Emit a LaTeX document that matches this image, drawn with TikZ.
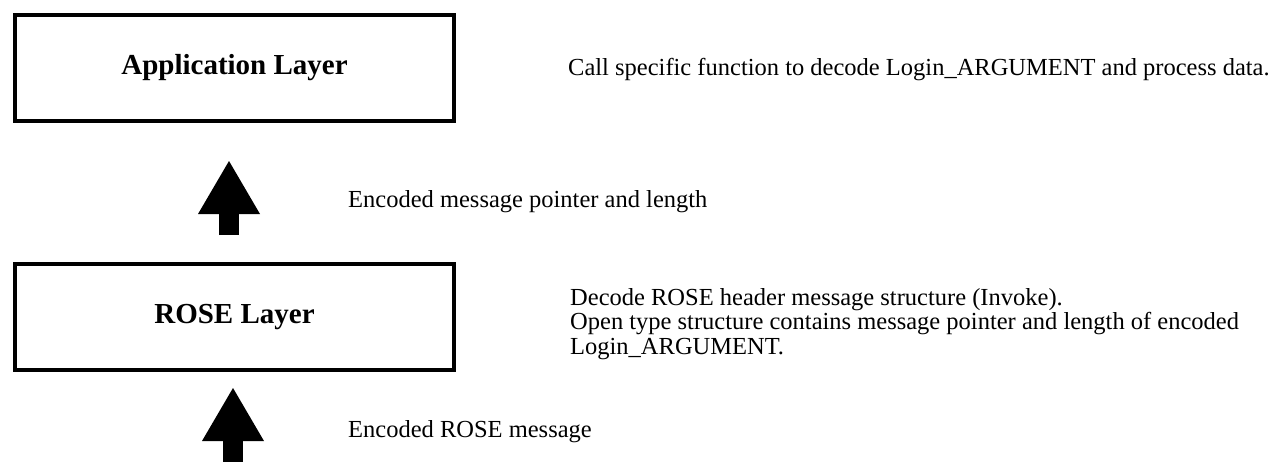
\documentclass[tikz,border=0pt]{standalone}
\usepackage{fontspec}
\setmainfont{Liberation Serif}
\usetikzlibrary{arrows.meta}

\tikzset{
  layer/.style={draw,line width=4pt,minimum width=439pt,minimum height=106pt,
    font=\bfseries\fontsize{29}{29}\selectfont},
  note/.style={inner sep=0pt,anchor=base west,align=left,
    font=\fontsize{24.5}{24.5}\selectfont},
  blockarrow/.style={line width=20pt,
    -{Triangle[length=53pt,width=62pt,line width=0pt]}}
}

\begin{document}
\begin{tikzpicture}[x=1pt,y=-1pt]
        \useasboundingbox (0,0) rectangle (1273,461);
        % the two layers
        \node[layer] (app) at (234.5,68) {Application Layer};
        \node[layer] (rose) at (234.5,317) {ROSE Layer};
        % what each step does
        \node[note] (appnote) at (568,75) {Call specific function to decode Login\_ARGUMENT and process data.};
        \node[note] (upnote) at (348,207) {Encoded message pointer and length};
        \node[note] (rosenote) at (570,354) {Decode ROSE header message structure (Invoke).\\
          Open type structure contains message pointer and length of encoded\\
          Login\_ARGUMENT.};
        \node[note] (innote) at (348,437) {Encoded ROSE message};
        % data going up
        \coordinate (feed) at (233,470);
        \draw[blockarrow] ([xshift=-5.5pt,yshift=27pt]rose.north) -- ([xshift=-5.5pt,yshift=-38pt]app.south);
        \draw[blockarrow] (feed) -- ([xshift=-1.5pt,yshift=-16pt]rose.south);
\end{tikzpicture}
\end{document}
